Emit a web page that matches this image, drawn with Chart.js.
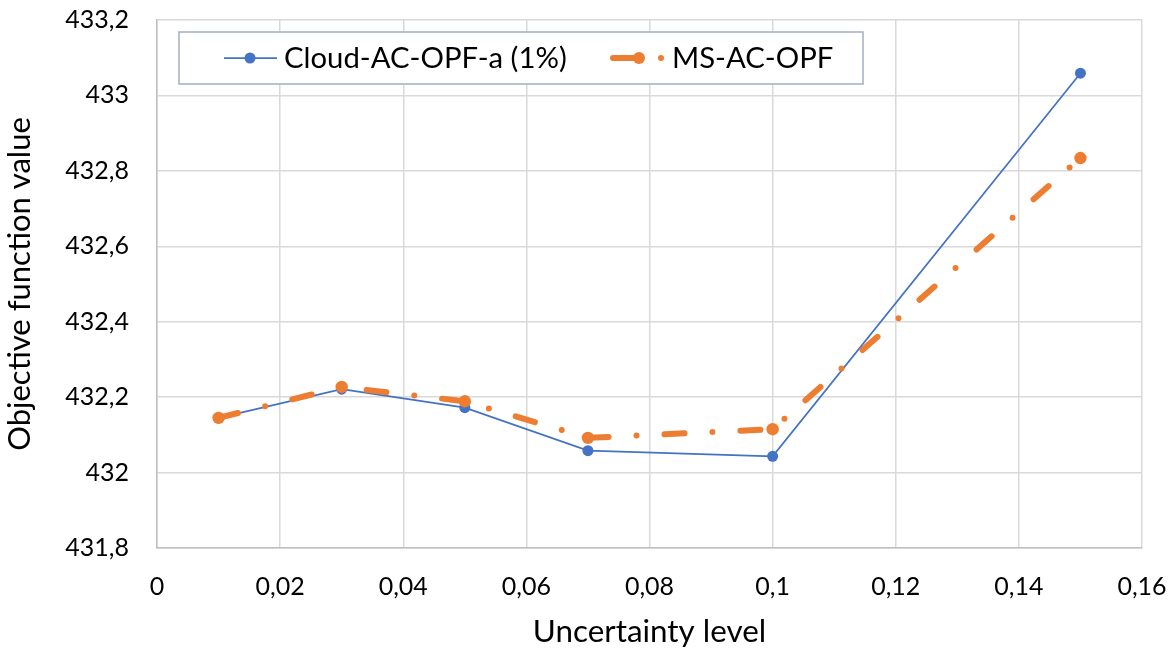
<!DOCTYPE html>
<html>
<head>
<meta charset="utf-8">
<script src="https://cdn.jsdelivr.net/npm/chart.js@4/dist/chart.umd.min.js"></script>
<style>
  html, body { margin: 0; padding: 0; background: #fff; }
  #wrap { width: 1176px; height: 654px; position: relative; }
</style>
</head>
<body>
<div id="wrap"><canvas id="c" width="1176" height="654"></canvas></div>
<script>
const uncertaintyLevels = [0.01, 0.03, 0.05, 0.07, 0.1, 0.15];
const cloudAcOpf = [432.145, 432.221, 432.172, 432.058, 432.043, 433.059];
const msAcOpf = [432.145, 432.227, 432.189, 432.092, 432.115, 432.834];
const seriesNames = ['Cloud-AC-OPF-a (1%)', 'MS-AC-OPF'];
const xTickValues = [0, 0.02, 0.04, 0.06, 0.08, 0.1, 0.12, 0.14, 0.16];
const xTickLabels = ['0', '0,02', '0,04', '0,06', '0,08', '0,1', '0,12', '0,14', '0,16'];
const yTickValues = [431.8, 432, 432.2, 432.4, 432.6, 432.8, 433, 433.2];
const yTickLabels = ['431,8', '432', '432,2', '432,4', '432,6', '432,8', '433', '433,2'];
const xTitle = 'Uncertainty level';
const yTitle = 'Objective function value';

const BLUE = '#4472C4';
const ORANGE = '#ED7D31';
const FONT = 'Lato, "Open Sans", sans-serif';

const legendBox = {
  id: 'legendBox',
  afterDraw(chart) {
    const ctx = chart.ctx;
    ctx.save();
    const x0 = 179, y0 = 32, x1 = 863, y1 = 84, cy = 58;
    ctx.fillStyle = '#fff';
    ctx.fillRect(x0, y0, x1 - x0, y1 - y0);
    ctx.strokeStyle = '#a3aec2';
    ctx.lineWidth = 1.5;
    ctx.strokeRect(x0, y0, x1 - x0, y1 - y0);
    ctx.strokeStyle = BLUE; ctx.lineWidth = 1.75;
    ctx.beginPath(); ctx.moveTo(224, cy); ctx.lineTo(277, cy); ctx.stroke();
    ctx.fillStyle = BLUE;
    ctx.beginPath(); ctx.arc(250, cy, 5.5, 0, Math.PI * 2); ctx.fill();
    ctx.strokeStyle = ORANGE; ctx.lineWidth = 6; ctx.lineCap = 'round';
    ctx.beginPath(); ctx.moveTo(613, cy); ctx.lineTo(637, cy); ctx.stroke();
    ctx.fillStyle = ORANGE;
    ctx.beginPath(); ctx.arc(639, cy, 6, 0, Math.PI * 2); ctx.fill();
    ctx.beginPath(); ctx.arc(661, cy, 3, 0, Math.PI * 2); ctx.fill();
    ctx.fillStyle = '#000';
    ctx.font = '29.3px ' + FONT;
    ctx.textBaseline = 'middle';
    ctx.textAlign = 'left';
    ctx.fillText(seriesNames[0], 284, cy + 1);
    ctx.fillText(seriesNames[1], 672, cy + 1);
    ctx.restore();
  }
};

new Chart(document.getElementById('c'), {
  type: 'scatter',
  data: {
    datasets: [
      {
        label: seriesNames[0],
        data: uncertaintyLevels.map((x, i) => ({ x, y: cloudAcOpf[i] })),
        showLine: true,
        borderColor: BLUE,
        backgroundColor: BLUE,
        borderWidth: 1.75,
        pointRadius: 5.5,
        pointHoverRadius: 5.5,
        pointBorderWidth: 0,
        tension: 0,
        order: 2
      },
      {
        label: seriesNames[1],
        data: uncertaintyLevels.map((x, i) => ({ x, y: msAcOpf[i] })),
        showLine: true,
        borderColor: ORANGE,
        backgroundColor: ORANGE,
        borderWidth: 6,
        borderDash: [20, 28, 0, 28],
        borderCapStyle: 'round',
        borderJoinStyle: 'round',
        pointRadius: 6.2,
        pointHoverRadius: 6.2,
        pointBorderWidth: 0,
        tension: 0,
        order: 1
      }
    ]
  },
  options: {
    responsive: false,
    animation: false,
    devicePixelRatio: 1,
    layout: { padding: { top: 20, right: 34, bottom: 0, left: 0 } },
    plugins: { legend: { display: false }, tooltip: { enabled: false } },
    scales: {
      x: {
        type: 'linear',
        min: 0, max: 0.16,
        afterBuildTicks: s => { s.ticks = xTickValues.map(v => ({ value: v })); },
        afterFit: s => { s.height = 106; s.paddingLeft = 0; s.paddingRight = 0; },
        ticks: {
          callback: (v, i) => xTickLabels[i],
          font: { family: FONT, size: 25 },
          color: '#000',
          padding: 24,
          maxRotation: 0,
          autoSkip: false
        },
        grid: { color: '#d9d9d9', lineWidth: 1.5, drawTicks: false },
        border: { color: '#bfbfbf', width: 1.5 },
        title: {
          display: true, text: xTitle, color: '#000',
          font: { family: FONT, size: 31.4 },
          padding: { top: 0, bottom: 3 }
        }
      },
      y: {
        type: 'linear',
        min: 431.8, max: 433.2,
        afterBuildTicks: s => { s.ticks = yTickValues.map(v => ({ value: v })); },
        afterFit: s => { s.width = 157; s.paddingTop = 0; s.paddingBottom = 0; },
        ticks: {
          callback: (v, i) => yTickLabels[i],
          font: { family: FONT, size: 25 },
          color: '#000',
          padding: 28,
          autoSkip: false
        },
        grid: { color: '#d9d9d9', lineWidth: 1.5, drawTicks: false },
        border: { color: '#bfbfbf', width: 1.5 },
        title: {
          display: true, text: yTitle, color: '#000',
          font: { family: FONT, size: 31 },
          padding: { top: 1, bottom: 0 }
        }
      }
    }
  },
  plugins: [legendBox]
});
</script>
</body>
</html>
